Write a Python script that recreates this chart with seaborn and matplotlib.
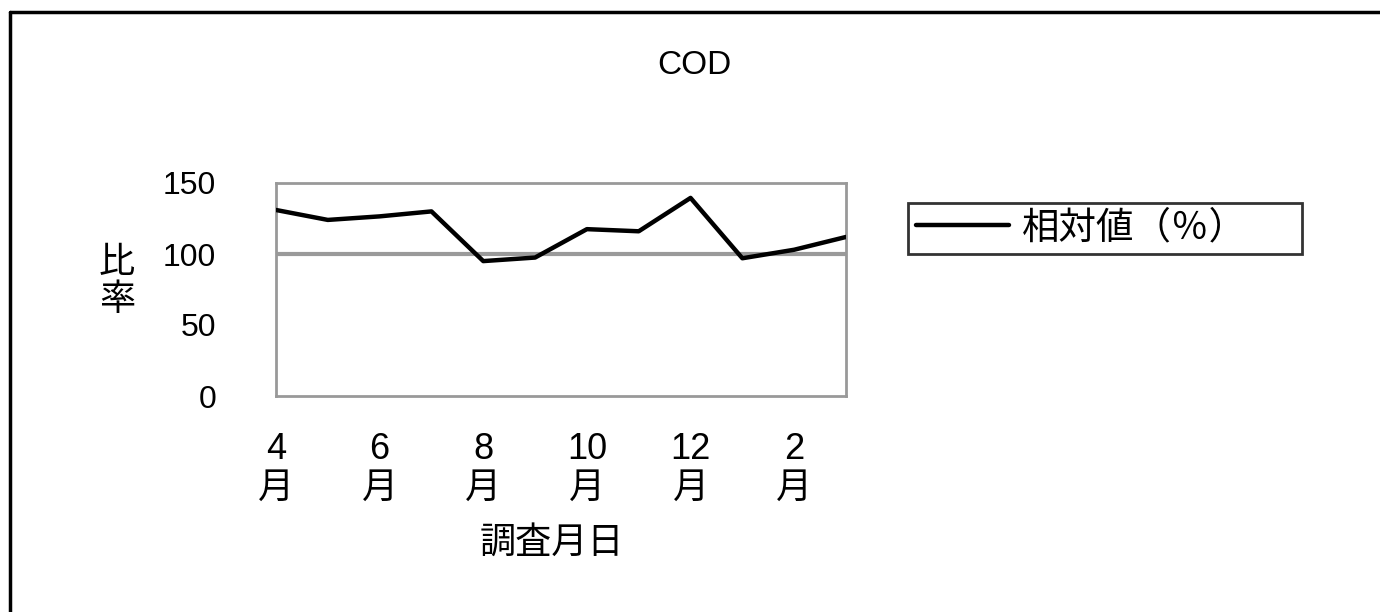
import matplotlib
matplotlib.use("Agg")
import matplotlib.pyplot as plt
from matplotlib.lines import Line2D
import seaborn as sns
import numpy as np
import pandas as pd

months = ["4月", "5月", "6月", "7月", "8月", "9月", "10月", "11月", "12月", "1月", "2月", "3月"]
relative = [131, 124, 126.5, 130, 95, 97.5, 117.5, 116, 139.5, 97, 103, 112]
tick_labels = ["4\n月", "", "6\n月", "", "8\n月", "", "10\n月", "", "12\n月", "", "2\n月", ""]
y_ticks = [0, 50, 100, 150]
reference_level = 100

sns.set_style("white")
plt.rcParams['font.family'] = ['Liberation Sans', 'Noto Sans CJK JP', 'DejaVu Sans']
for k in ["text.color", "axes.labelcolor", "xtick.color", "ytick.color"]:
    plt.rcParams[k] = "black"

df = pd.DataFrame({"idx": np.arange(len(months)), "month": months, "value": relative})

W, H = 1380, 612
fig = plt.figure(figsize=(W / 100, H / 100), dpi=100)
ax = fig.add_axes([276 / W, 1 - 396 / H, 570 / W, 213 / H])

ax.axhline(reference_level, color="#9a9a9a", lw=3, zorder=1)
sns.lineplot(data=df, x="idx", y="value", color="black", lw=3.2, ax=ax,
             legend=False, zorder=3)

ax.set_xlim(0, len(months) - 1)
ax.set_ylim(0, 150)
ax.set_yticks(y_ticks)
ax.set_yticklabels([str(v) for v in y_ticks], fontsize=23)
ax.set_xticks(df["idx"])
ax.set_xticklabels(tick_labels, fontsize=26, linespacing=1.12)
ax.tick_params(axis="y", direction="in", length=8, width=1, color="#999999", labelcolor="black", pad=43)
ax.tick_params(axis="x", direction="in", length=6, width=1, color="#999999", labelcolor="black", pad=26)

for s in ax.spines.values():
    s.set_color("#999999")
    s.set_linewidth(2)

ax.set_xlabel("調査月日", fontsize=26, va="center")
ax.xaxis.set_label_coords(0.484, (396 - 543) / 213)
ax.set_ylabel("比\n率", fontsize=26, rotation=0, linespacing=1.05, va="center", ha="center")
ax.yaxis.set_label_coords((117 - 276) / 570, (396 - 282) / 213)

fig.text(694 / W, 1 - 66 / H, "COD", ha="center", va="center", fontsize=24)

handles = [Line2D([0], [0], color="black", lw=3.2)]
leg = fig.legend(handles, ["相対値（％）"], loc="upper left",
                 bbox_to_anchor=(908 / W, 1 - 255 / H, 394 / W, 52 / H), mode="expand",
                 fontsize=27, frameon=True, fancybox=False, shadow=False,
                 handlelength=2.5, borderpad=0.2, handletextpad=0.35, borderaxespad=0)
leg.get_frame().set_edgecolor("black")
leg.get_frame().set_linewidth(2)

# figure frame: top and left edges
fig.add_artist(Line2D([10 / W, 1.0], [1 - 12 / H, 1 - 12 / H], transform=fig.transFigure, color="black", lw=2.5))
fig.add_artist(Line2D([10 / W, 10 / W], [0, 1 - 12 / H], transform=fig.transFigure, color="black", lw=2.5))

fig.savefig("out.png", dpi=100)
